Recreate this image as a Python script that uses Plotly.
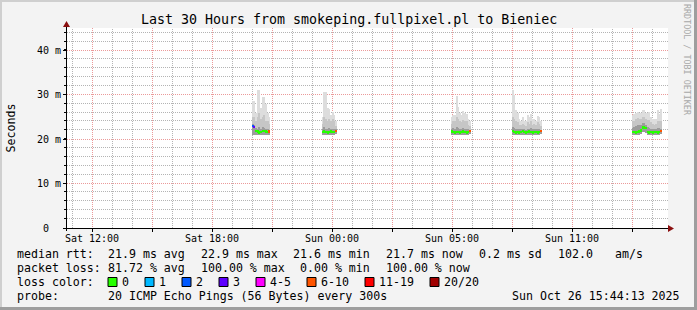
import plotly.graph_objects as go

# ---------------- data (values in ms, time in hours since Sat 00:00) ----------------
STEP_H = 5 / 60.0
BURST_START = [20.0, 23.5, 29.95, 33.0, 39.0]

MEDIAN = [
    [23.0, 22.8, 21.8, 21.7, 21.5, 21.6, 21.8, 21.9, 21.7, 21.6, 21.7],
    [21.6, 21.7, 21.6, 21.5, 21.6, 21.7, 21.6, 21.6, 21.8],
    [21.7, 21.6, 21.5, 21.6, 21.6, 21.5, 21.6, 21.7, 21.6, 21.5, 21.6, 21.8],
    [21.8, 21.6, 21.5, 21.6, 21.5, 21.6, 21.8, 21.6, 21.5, 21.6, 21.7, 21.6, 21.5, 21.6, 21.6, 21.5, 21.6, 21.8],
    [21.6, 21.6, 21.5, 21.6, 21.7, 22.0, 22.6, 22.6, 22.5, 21.6, 21.5, 21.6, 21.5, 21.6, 21.6, 21.5, 21.6, 21.8],
]
LOSS = [
    [2, 3, 0, 0, 0, 0, 0, 0, 0, 0, 5],
    [0, 0, 0, 0, 0, 0, 0, 0, 5],
    [0, 0, 0, 0, 0, 0, 0, 0, 0, 0, 0, 5],
    [0, 0, 0, 0, 0, 0, 0, 0, 0, 0, 0, 0, 0, 0, 0, 0, 0, 5],
    [0, 0, 0, 0, 0, 0, 0, 0, 0, 0, 0, 0, 0, 0, 0, 0, 0, 5],
]
SMOKE_MIN = [
    [21.0, 21.0, 21.0, 20.9, 21.0, 21.0, 21.0, 21.0, 21.0, 21.0, 21.0],
    [21.0, 21.0, 20.9, 21.0, 21.0, 21.0, 21.0, 21.0, 21.1],
    [21.0, 21.0, 20.9, 21.0, 21.0, 20.9, 21.0, 21.0, 21.0, 20.9, 21.0, 21.1],
    [21.0, 21.0, 20.9, 21.0, 20.9, 21.0, 21.0, 21.0, 20.9, 21.0, 21.0, 21.0, 20.9, 21.0, 21.0, 20.9, 21.0, 21.1],
    [21.0, 21.0, 20.9, 21.0, 21.0, 21.2, 21.6, 21.6, 21.5, 21.0, 20.9, 21.0, 20.9, 21.0, 21.0, 20.9, 21.0, 21.1],
]
SMOKE_DARK = [
    [23.4, 23.2, 22.5, 22.3, 22.7, 22.3, 22.7, 22.5, 22.3, 22.2, 22.1],
    [22.3, 22.7, 22.3, 22.3, 22.5, 22.3, 22.4, 22.3, 22.2],
    [22.3, 22.5, 22.4, 22.7, 22.5, 22.3, 22.2, 22.5, 22.4, 22.3, 22.2, 22.1],
    [22.7, 22.5, 22.4, 22.3, 22.2, 22.2, 22.3, 22.2, 22.1, 22.4, 22.3, 22.5, 22.2, 22.3, 22.2, 22.4, 22.3, 22.1],
    [22.6, 22.8, 23.0, 23.2, 23.1, 23.3, 23.7, 23.7, 23.3, 22.8, 22.6, 22.4, 22.3, 22.2, 22.3, 22.6, 22.5, 22.3],
]
SMOKE_MID = [
    [25.0, 25.0, 24.0, 25.0, 26.0, 24.5, 25.0, 25.5, 24.0, 24.0, 23.5],
    [23.5, 25.0, 24.5, 24.0, 24.5, 24.0, 24.5, 24.0, 23.0],
    [23.5, 24.0, 24.0, 25.0, 24.5, 24.0, 23.8, 24.3, 24.0, 24.0, 23.2, 23.0],
    [25.0, 24.5, 24.0, 23.8, 23.3, 23.2, 23.5, 23.2, 23.0, 23.8, 23.5, 24.0, 23.3, 23.5, 23.2, 23.8, 23.5, 23.0],
    [24.0, 24.2, 24.5, 24.8, 24.5, 24.5, 25.0, 25.0, 24.5, 24.3, 24.3, 23.8, 23.5, 23.3, 23.5, 24.0, 24.0, 24.0],
]
SMOKE_MAX = [
    [28.5, 28.5, 26.0, 31.0, 31.0, 27.0, 29.5, 29.5, 28.0, 26.0, 25.0],
    [25.0, 30.6, 30.6, 27.0, 26.9, 25.5, 26.2, 25.4, 24.2],
    [25.0, 25.5, 25.5, 29.8, 27.3, 26.0, 25.4, 26.3, 26.0, 25.7, 24.5, 24.0],
    [31.0, 30.0, 26.5, 26.0, 24.5, 24.2, 25.0, 24.2, 24.0, 25.4, 25.0, 25.7, 24.5, 24.6, 24.2, 25.3, 25.0, 24.0],
    [25.5, 25.7, 26.0, 26.2, 26.0, 26.0, 26.5, 26.5, 25.8, 26.0, 26.1, 25.0, 24.6, 24.5, 24.6, 26.5, 25.7, 26.7],
]

LOSS_LABELS = ["0", "1", "2", "3", "4-5", "6-10", "11-19", "20/20"]
LOSS_COLORS = ["#26ff00", "#00b8ff", "#0059ff", "#5e00ff", "#ff00ff", "#ff5500", "#ff0000", "#a10000"]

MAJOR_HOURS = [12, 15, 18, 21, 24, 27, 30, 33, 36, 39]
MAJOR_LABELS = ["Sat 12:00", "", "Sat 18:00", "", "Sun 00:00", "", "Sun 05:00", "", "Sun 11:00", ""]
MINOR_HOURS = list(range(11, 41))
Y_TICKS = [0, 10, 20, 30, 40]
Y_LABELS = ["0\u00a0\u00a0", "10 m", "20 m", "30 m", "40 m"]
MINOR_Y = list(range(2, 46, 2))
X_RANGE = [10.75, 40.8]
Y_RANGE = [0, 45.05]

TITLE = "Last 30 Hours from smokeping.fullpixel.pl to Bieniec"
LINE_RTT = [("median rtt:", 16), ("21.9 ms avg", 106.5), ("22.9 ms max", 199.5), ("21.6 ms min", 292),
            ("21.7 ms now", 385), ("0.2 ms sd", 478.5), ("102.0", 557), ("am/s", 613.5)]
LINE_LOSS = [("packet loss:", 16), ("81.72 % avg", 106.5), ("100.00 % max", 199.5),
             ("0.00 % min", 299), ("100.00 % now", 385)]
LINE_PROBE = [("probe:", 16), ("20 ICMP Echo Pings (56 Bytes) every 300s", 106.5)]
DATE_TEXT = "Sun Oct 26 15:44:13 2025"

# ---------------- layout geometry (pixels) ----------------
W, H = 697, 310
PL, PR, PT, PB = 67, 668, 28, 228
FONT = "DejaVu Sans Mono"


def fx(px):
    return (px - PL) / (PR - PL)


def fy(py):
    return (PB - py) / (PB - PT)


def hour_px(h):
    return int(round(PL + (h - X_RANGE[0]) / (X_RANGE[1] - X_RANGE[0]) * (PR - PL))) + 0.5


def val_py(v):
    return int(round(PB - (v - Y_RANGE[0]) / (Y_RANGE[1] - Y_RANGE[0]) * (PB - PT))) - 0.5


fig = go.Figure()

xs, med, mn, dk, md, mx, lc = [], [], [], [], [], [], []
for b, start in enumerate(BURST_START):
    for i in range(len(MEDIAN[b])):
        xs.append(start + (i + 0.5) * STEP_H)
        med.append(MEDIAN[b][i])
        mn.append(SMOKE_MIN[b][i])
        dk.append(SMOKE_DARK[b][i])
        md.append(SMOKE_MID[b][i])
        mx.append(SMOKE_MAX[b][i])
        lc.append(LOSS_COLORS[LOSS[b][i]])

for top, col in ((mx, "#dddddd"), (md, "#c6c6c6"), (dk, "#9c9c9c")):
    fig.add_trace(go.Bar(
        x=xs, base=mn, y=[t - m for t, m in zip(top, mn)], width=STEP_H,
        marker=dict(color=col, line=dict(width=0)), hoverinfo="skip", showlegend=False))

MED_T = 0.55
fig.add_trace(go.Bar(
    x=xs, base=[m - MED_T / 2 for m in med], y=[MED_T] * len(med), width=STEP_H,
    marker=dict(color=lc, line=dict(width=0)), hoverinfo="skip", showlegend=False))

grid_minor = "#b4b4b4"
grid_major = "#eb9a9a"
DOT = "1px,1px"

fig.update_layout(
    width=W, height=H, autosize=False,
    margin=dict(l=PL, r=W - PR, t=PT, b=H - PB, pad=0),
    paper_bgcolor="#f3f3f3", plot_bgcolor="#ffffff",
    barmode="overlay", bargap=0, showlegend=False,
    font=dict(family=FONT, color="#000000"),
    xaxis=dict(
        range=X_RANGE, tickmode="array", tickvals=MAJOR_HOURS, ticktext=MAJOR_LABELS,
        showgrid=True, gridcolor=grid_major, griddash=DOT, gridwidth=1,
        ticks="outside", ticklen=3, tickcolor="#000000", tickwidth=1,
        ticklabelstandoff=-2,
        showline=False, zeroline=False, tickfont=dict(family=FONT, size=10, color="#000000"),
        fixedrange=True,
    ),
    yaxis=dict(
        range=Y_RANGE, tickmode="array", tickvals=Y_TICKS, ticktext=Y_LABELS,
        showgrid=True, gridcolor=grid_major, griddash=DOT, gridwidth=1,
        ticks="outside", ticklen=3, tickcolor="#000000", tickwidth=1,
        showline=False, zeroline=False, tickfont=dict(family=FONT, size=10, color="#000000"),
        fixedrange=True,
    ),
)

shapes = []
# border shading
shapes.append(dict(type="rect", xref="paper", yref="paper", x0=fx(0), x1=fx(W), y0=fy(0), y1=fy(2),
                   fillcolor="#cfcfcf", line=dict(width=0), layer="below"))
shapes.append(dict(type="rect", xref="paper", yref="paper", x0=fx(0), x1=fx(2), y0=fy(0), y1=fy(H),
                   fillcolor="#cfcfcf", line=dict(width=0), layer="below"))
shapes.append(dict(type="rect", xref="paper", yref="paper", x0=fx(W - 3), x1=fx(W), y0=fy(0), y1=fy(H),
                   fillcolor="#9e9e9e", line=dict(width=0), layer="below"))
shapes.append(dict(type="rect", xref="paper", yref="paper", x0=fx(0), x1=fx(W), y0=fy(H - 3), y1=fy(H),
                   fillcolor="#9e9e9e", line=dict(width=0), layer="below"))
# minor grid (grey dotted)
for h in MINOR_HOURS:
    if h in MAJOR_HOURS:
        continue
    p = fx(hour_px(h))
    shapes.append(dict(type="line", xref="paper", yref="paper", x0=p, x1=p, y0=0, y1=1,
                       line=dict(color=grid_minor, width=1, dash=DOT), layer="below"))
for v in MINOR_Y:
    q = fy(val_py(v))
    if v not in Y_TICKS:
        shapes.append(dict(type="line", xref="paper", yref="paper", x0=0, x1=1, y0=q, y1=q,
                           line=dict(color=grid_minor, width=1, dash=DOT), layer="below"))
    shapes.append(dict(type="line", xref="paper", yref="paper", x0=fx(PL - 3), x1=fx(PL - 0.5), y0=q, y1=q,
                       line=dict(color="#000000", width=1)))
# axes
shapes.append(dict(type="line", xref="paper", yref="paper", x0=fx(66.5), x1=fx(66.5), y0=fy(231), y1=fy(25),
                   line=dict(color="#000000", width=1)))
shapes.append(dict(type="line", xref="paper", yref="paper", x0=fx(64), x1=fx(670), y0=fy(228.5), y1=fy(228.5),
                   line=dict(color="#000000", width=1)))
# arrows
shapes.append(dict(type="path", xref="paper", yref="paper",
                   path=f"M {fx(63)} {fy(27)} L {fx(70)} {fy(27)} L {fx(66.5)} {fy(21)} Z",
                   fillcolor="#8b1010", line=dict(width=0)))
shapes.append(dict(type="path", xref="paper", yref="paper",
                   path=f"M {fx(668)} {fy(225)} L {fx(668)} {fy(232)} L {fx(674)} {fy(228.5)} Z",
                   fillcolor="#8b1010", line=dict(width=0)))
# loss colour boxes
for k, (lab, col) in enumerate(zip(LOSS_LABELS, LOSS_COLORS)):
    cx = 112.5 + 30 * k + 7 * sum(len(l) for l in LOSS_LABELS[:k])
    shapes.append(dict(type="rect", xref="paper", yref="paper",
                       x0=fx(cx - 4.5), x1=fx(cx + 4.5), y0=fy(277.5), y1=fy(286.5),
                       fillcolor=col, line=dict(color="#000000", width=1)))
fig.update_layout(shapes=shapes)

ann = []


def text(s, px, py, size=11.6, anchor="left", angle=0, color="#000000"):
    ann.append(dict(text=s, x=fx(px), y=fy(py), xref="paper", yref="paper", showarrow=False,
                    xanchor=anchor, yanchor="middle", textangle=angle, borderpad=0,
                    font=dict(family=FONT, size=size, color=color)))


text(TITLE, W / 2, 19, size=13.3, anchor="center")
text("Seconds", 10.5, 128, size=11.6, anchor="center", angle=-90)
text("RRDTOOL / TOBI OETIKER", 687, 60, size=8.4, anchor="center", angle=90, color="#a8a8a8")
for s, px in LINE_RTT:
    text(s, px, 254)
for s, px in LINE_LOSS:
    text(s, px, 268.3)
text("loss color:", 16, 281.7)
for k, lab in enumerate(LOSS_LABELS):
    cx = 112.5 + 30 * k + 7 * sum(len(l) for l in LOSS_LABELS[:k])
    text(lab, cx + 8, 281.7)
for s, px in LINE_PROBE:
    text(s, px, 296.3)
text(DATE_TEXT, 681, 296.3, anchor="right")
fig.update_layout(annotations=ann)

fig.write_html("out.html")
